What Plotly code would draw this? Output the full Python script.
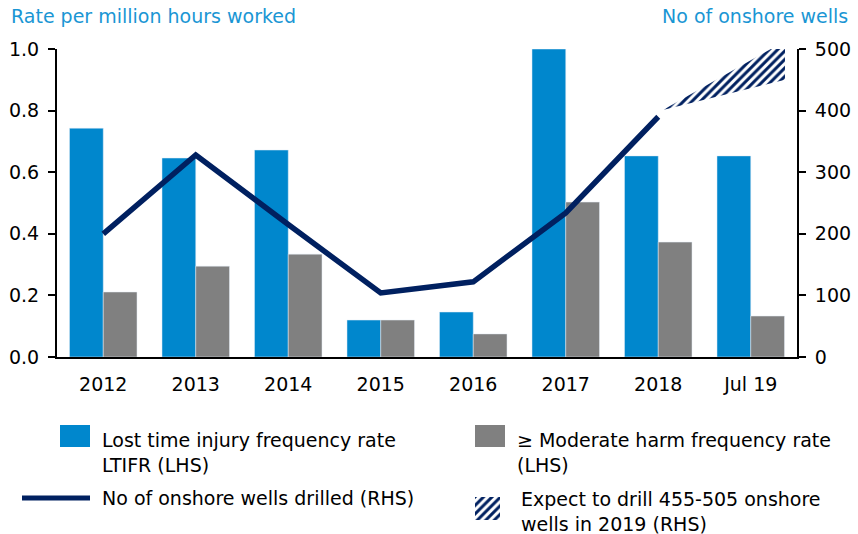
import plotly.graph_objects as go

# data
categories = ["2012", "2013", "2014", "2015", "2016", "2017", "2018", "Jul 19"]
ltifr = [0.743, 0.646, 0.672, 0.12, 0.146, 1.0, 0.653, 0.653]
moderate_harm = [0.211, 0.295, 0.334, 0.12, 0.075, 0.503, 0.373, 0.133]
wells_drilled = [200, 328, 215, 104, 122, 234, 390]
forecast_x = [6.05, 7.37]
forecast_high = [401, 513]
forecast_low = [401, 450]

BLUE = "#0087cd"
GRAY = "#808080"
NAVY = "#002060"
TITLE_BLUE = "#1a96d4"
FONT = "DejaVu Sans"
FS = 19

W, H = 858, 534
ML, MR, MT, MB = 57, 61, 49, 10


def px(x):
    return (x - ML) / (W - ML - MR)


def py(y):
    return (H - MB - y) / (H - MT - MB)


x_idx = list(range(len(categories)))

fig = go.Figure()
fig.add_trace(go.Bar(x=x_idx, y=ltifr, marker_color=BLUE, name="LTIFR"))
fig.add_trace(go.Bar(x=x_idx, y=moderate_harm, marker_color=GRAY, name="Moderate harm"))
fig.add_trace(go.Scatter(x=x_idx[:len(wells_drilled)], y=wells_drilled, yaxis="y2",
                         mode="lines", line=dict(color=NAVY, width=5.5)))

# forecast wedge (hatched)
poly_x = forecast_x + forecast_x[::-1] + forecast_x[:1]
poly_y = forecast_high + forecast_low[::-1] + forecast_high[:1]
hatch = dict(shape="/", fgcolor=NAVY, fgopacity=1, bgcolor="white", size=6, solidity=0.5)
fig.add_trace(go.Scatter(x=poly_x, y=poly_y, yaxis="y2", mode="none", fill="toself",
                         fillcolor="white", fillpattern=hatch))

# legend icon for hatched wedge, on its own small axes
fig.add_trace(go.Scatter(x=[0, 1, 1, 0, 0], y=[0, 0, 1, 1, 0], xaxis="x3", yaxis="y3",
                         mode="none", fill="toself", fillcolor="white", fillpattern=hatch))

y_bottom = py(357)
fig.update_layout(
    width=W, height=H, autosize=False,
    margin=dict(l=ML, r=MR, t=MT, b=MB),
    paper_bgcolor="white", plot_bgcolor="white",
    showlegend=False,
    barmode="group", bargap=0.27, bargroupgap=0,
    font=dict(family=FONT, size=FS, color="black"),
    xaxis=dict(range=[-0.5, 7.5], tickvals=x_idx, ticktext=categories,
               showline=True, linecolor="black", linewidth=2, ticks="",
               showgrid=False, zeroline=False, ticklabelstandoff=9,
               anchor="y", automargin=False),
    yaxis=dict(range=[0, 1], domain=[y_bottom, 1], dtick=0.2, tickformat=".1f",
               showline=True, linecolor="black", linewidth=2,
               ticks="outside", ticklen=7, tickwidth=2, tickcolor="black",
               showgrid=False, zeroline=False, ticklabelstandoff=5, automargin=False),
    yaxis2=dict(range=[0, 500], domain=[y_bottom, 1], overlaying="y", side="right",
                dtick=100, showline=True, linecolor="black", linewidth=2,
                ticks="outside", ticklen=7, tickwidth=2, tickcolor="black",
                showgrid=False, zeroline=False, ticklabelstandoff=5, automargin=False),
    xaxis3=dict(domain=[px(475), px(500)], range=[0, 1], visible=False, anchor="y3"),
    yaxis3=dict(domain=[py(520), py(497)], range=[0, 1], visible=False, anchor="x3"),
)

shapes = [
    dict(type="rect", xref="paper", yref="paper", x0=px(60), x1=px(90),
         y0=py(447), y1=py(425), fillcolor=BLUE, line_width=0),
    dict(type="rect", xref="paper", yref="paper", x0=px(475), x1=px(505),
         y0=py(447), y1=py(425), fillcolor=GRAY, line_width=0),
    dict(type="line", xref="paper", yref="paper", x0=px(22), x1=px(90),
         y0=py(498), y1=py(498), line=dict(color=NAVY, width=5)),
]
fig.update_layout(shapes=shapes)

annotations = [
    dict(text="Rate per million hours worked", x=px(9), y=py(16), xanchor="left",
         font=dict(color=TITLE_BLUE)),
    dict(text="No of onshore wells", x=px(850), y=py(16), xanchor="right",
         font=dict(color=TITLE_BLUE)),
    dict(text="Lost time injury frequency rate<br>LTIFR (LHS)", x=px(100), y=py(452.5),
         xanchor="left"),
    dict(text="≥ Moderate harm frequency rate<br>(LHS)", x=px(515), y=py(452.5),
         xanchor="left"),
    dict(text="No of onshore wells drilled (RHS)", x=px(100), y=py(498), xanchor="left"),
    dict(text="Expect to drill 455-505 onshore<br>wells in 2019 (RHS)", x=px(519),
         y=py(511), xanchor="left"),
]
for a in annotations:
    a.update(xref="paper", yref="paper", yanchor="middle", showarrow=False, align="left")
fig.update_layout(annotations=annotations)

# page has a default body margin; drop it so the figure sits at the top-left
fig.write_html("out.html", config={"displayModeBar": False},
               post_script="document.body.style.margin='0';")
